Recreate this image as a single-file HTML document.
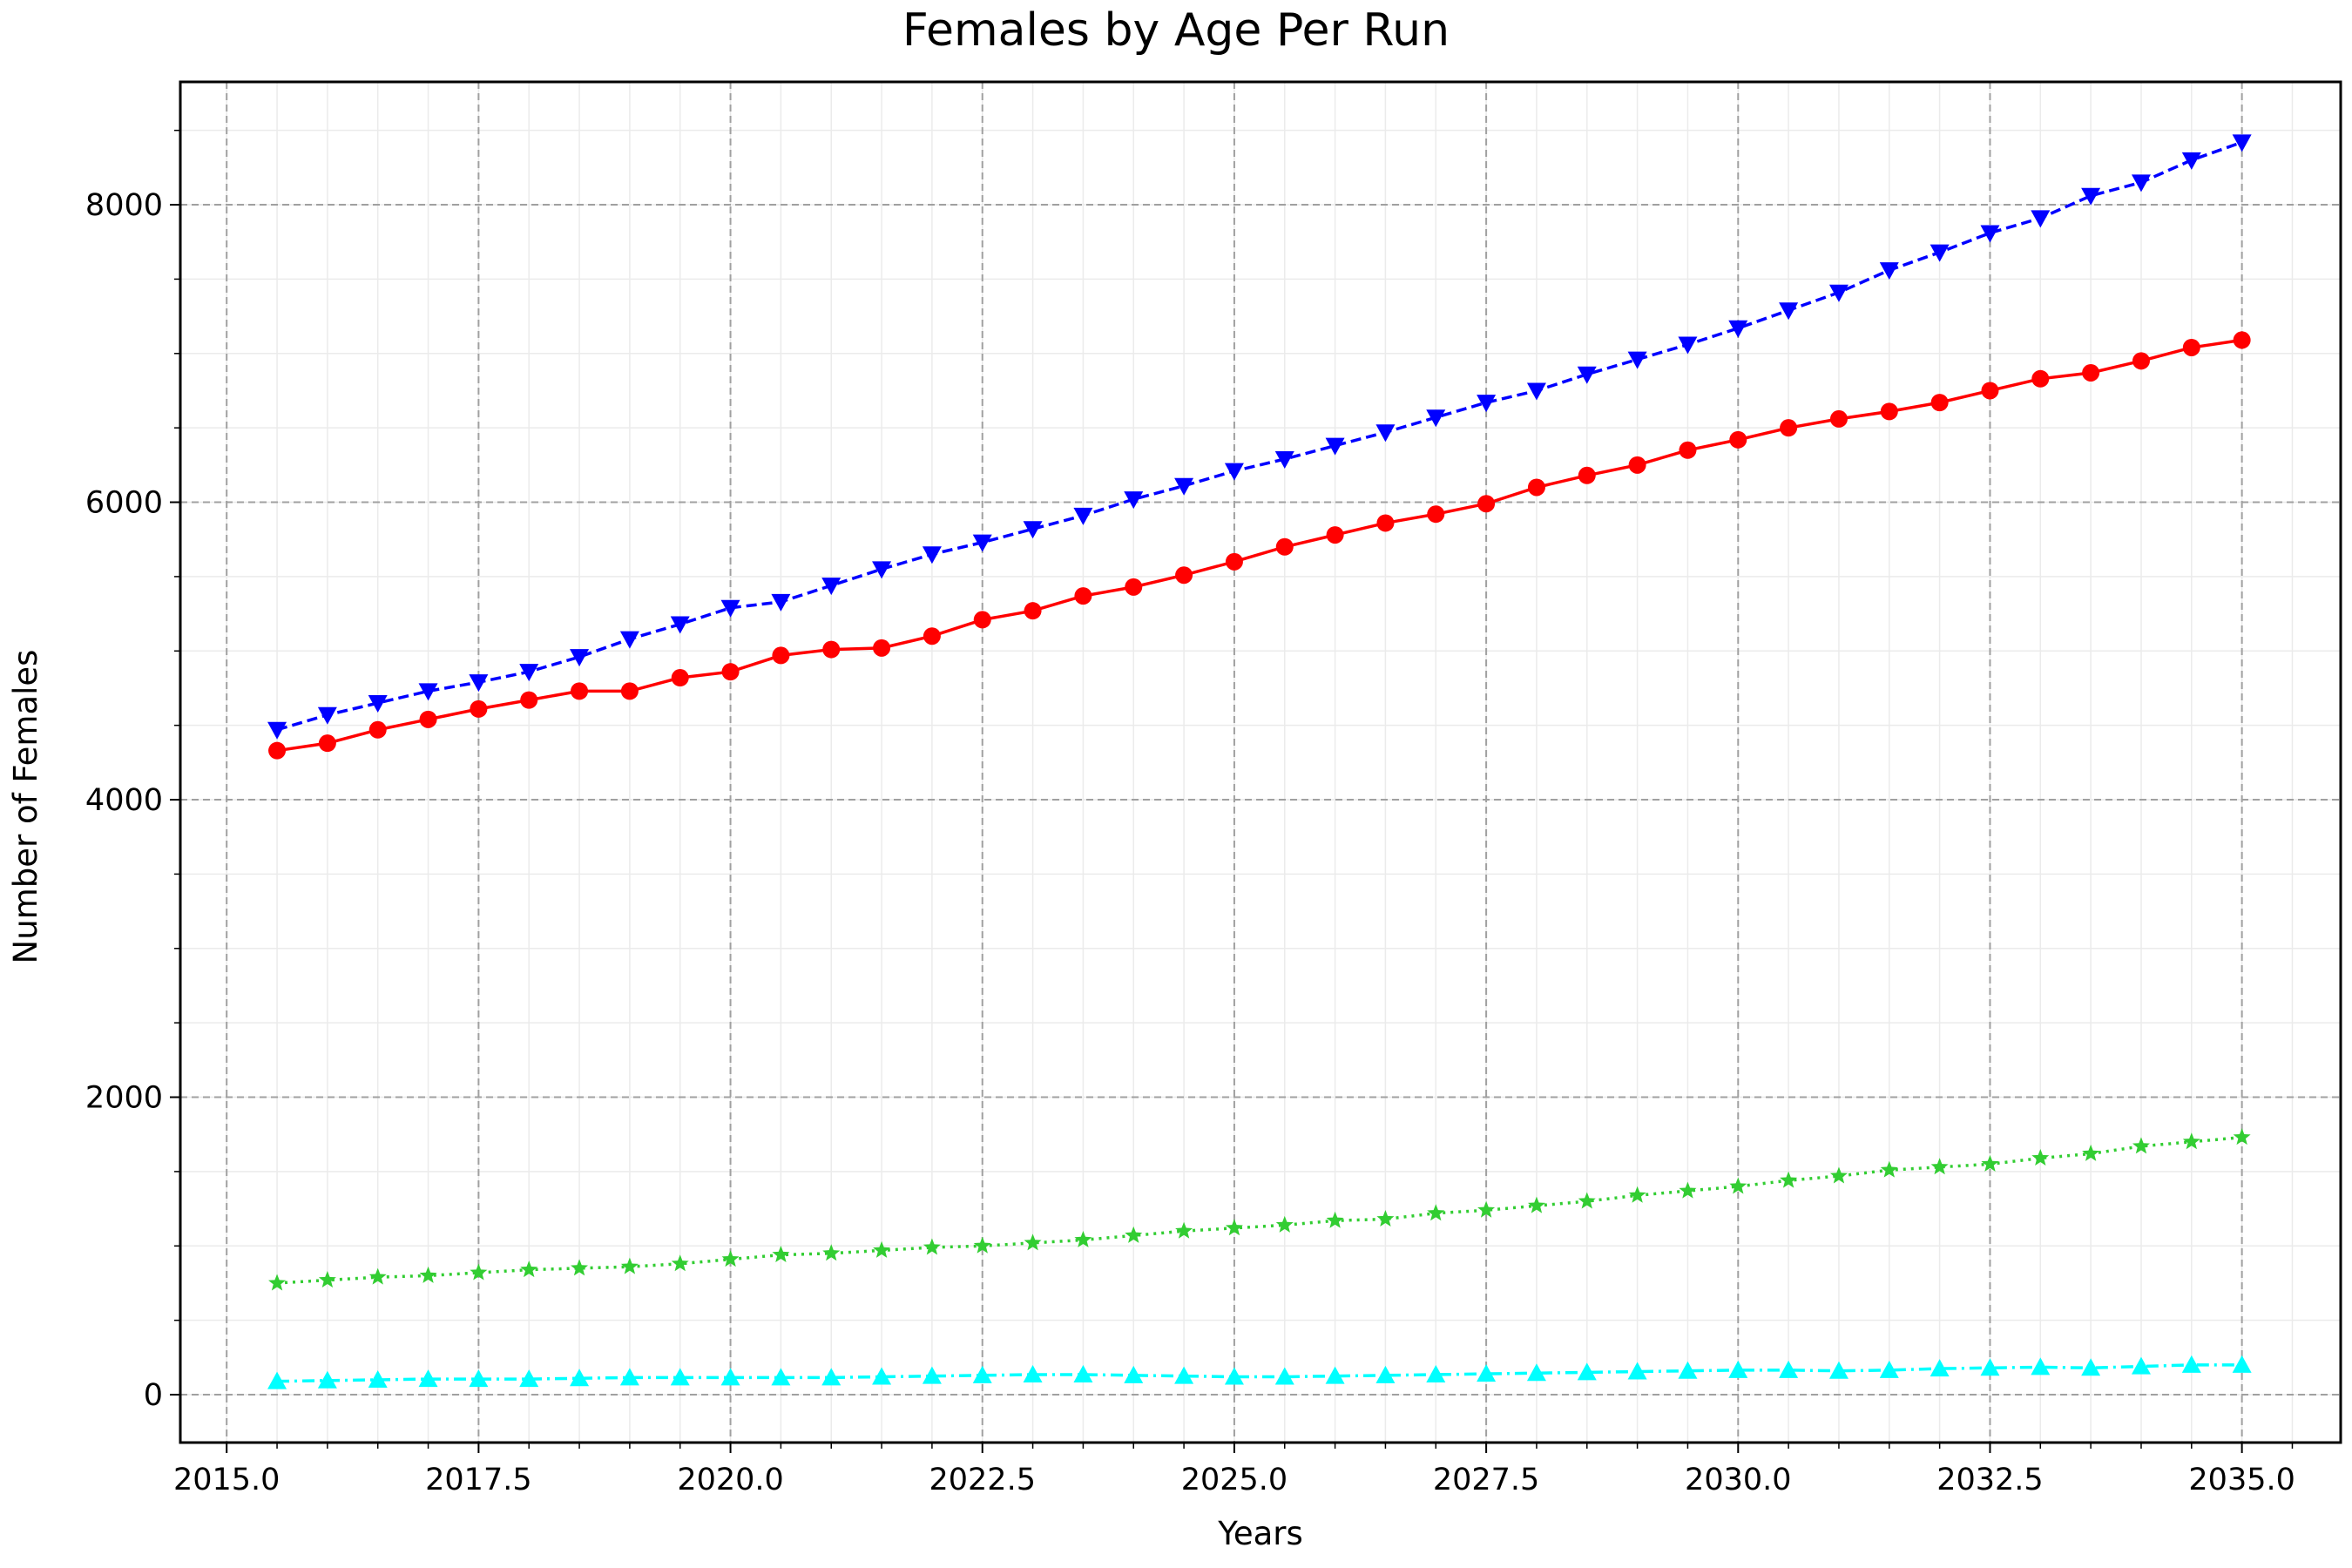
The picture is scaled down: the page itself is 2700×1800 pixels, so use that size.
<!DOCTYPE html>
<html><head><meta charset="utf-8"><style>
html,body{margin:0;padding:0;background:#fff;}
svg{display:block;font-family:"DejaVu Sans","Liberation Sans",sans-serif;}
</style></head><body>
<svg id="chart" width="2700" height="1800" viewBox="0 0 2700 1800" xmlns="http://www.w3.org/2000/svg">
<rect x="0" y="0" width="2700" height="1800" fill="#fff"/>
<g id="grid"></g>
<g id="series"></g>
<g id="axes"></g>
<text x="1350" y="52" text-anchor="middle" font-size="52" fill="#000">Females by Age Per Run</text>
<text x="1447" y="1773" text-anchor="middle" font-size="37" fill="#000">Years</text>
<text transform="translate(42,926) rotate(-90)" text-anchor="middle" font-size="37" fill="#000">Number of Females</text>
</svg>
<script>
const years = [];
for (let i = 0; i < 40; i++) years.push(2015.5 + i * 0.5);
const blueValues = [4470,4570,4650,4730,4790,4860,4960,5080,5180,5290,5330,5440,5550,5650,5730,5820,5910,6020,6110,6210,6290,6380,6470,6570,6670,6750,6860,6960,7060,7170,7290,7410,7560,7680,7810,7910,8060,8150,8300,8420];
const redValues = [4330,4380,4470,4540,4610,4670,4730,4730,4820,4860,4970,5010,5020,5100,5210,5270,5370,5430,5510,5600,5700,5780,5860,5920,5990,6100,6180,6250,6350,6420,6500,6560,6610,6670,6750,6830,6870,6950,7040,7090];
const greenValues = [750,770,790,800,820,840,850,860,880,910,940,950,970,990,1000,1020,1040,1070,1100,1120,1140,1170,1180,1220,1240,1270,1300,1340,1370,1400,1440,1470,1510,1530,1550,1590,1620,1670,1700,1730];
const cyanValues = [90,95,100,105,105,105,110,115,115,115,115,115,120,125,130,135,135,130,125,120,120,125,130,135,140,145,150,155,160,165,165,160,165,175,180,185,180,190,200,200];
const xTicks = [2015,2017.5,2020,2022.5,2025,2027.5,2030,2032.5,2035];
const xTickLabels = ["2015.0","2017.5","2020.0","2022.5","2025.0","2027.5","2030.0","2032.5","2035.0"];
const yTicks = [0,2000,4000,6000,8000];
const yTickLabels = ["0","2000","4000","6000","8000"];

const L=207,R=2687,T=94,B=1656;
const xMin=2014.54,xMax=2035.98,yMin=-322,yMax=8826;
const xs=v=>L+(v-xMin)/(xMax-xMin)*(R-L);
const ys=v=>B-(v-yMin)/(yMax-yMin)*(B-T);
const NS="http://www.w3.org/2000/svg";
function mk(tag,attrs,parent){const e=document.createElementNS(NS,tag);for(const k in attrs)e.setAttribute(k,attrs[k]);parent.appendChild(e);return e;}
const grid=document.getElementById('grid'),axes=document.getElementById('axes'),ser=document.getElementById('series');

for(let v=2014.5;v<=2036;v+=0.5){if(v<xMin||v>xMax)continue;const x=xs(v);
 const l=mk('line',{x1:x,x2:x,y1:T,y2:B,stroke:'#ebebeb','stroke-width':1.5},grid);
 
 const t=mk('line',{x1:x,x2:x,y1:B,y2:B+7,stroke:'#000','stroke-width':1.5},axes);
 }
for(let v=0;v<=8500;v+=500){const y=ys(v);
 const l=mk('line',{x1:L,x2:R,y1:y,y2:y,stroke:'#ebebeb','stroke-width':1.5},grid);
 
 const t=mk('line',{x1:L-7,x2:L,y1:y,y2:y,stroke:'#000','stroke-width':1.5},axes);
 }
xTicks.forEach((v,i)=>{const x=xs(v);
 const l=mk('line',{x1:x,x2:x,y1:T,y2:B,stroke:'#a0a0a0','stroke-width':2,'stroke-dasharray':'8,5'},grid);
 
 const t=mk('line',{x1:x,x2:x,y1:B,y2:B+12,stroke:'#000','stroke-width':2},axes);
 
 const tx=mk('text',{x:x,y:B+54,'text-anchor':'middle','font-size':35,fill:'#000'},axes);tx.textContent=xTickLabels[i];
 });
yTicks.forEach((v,i)=>{const y=ys(v);
 const l=mk('line',{x1:L,x2:R,y1:y,y2:y,stroke:'#a0a0a0','stroke-width':2,'stroke-dasharray':'8,5'},grid);
 
 const t=mk('line',{x1:L-12,x2:L,y1:y,y2:y,stroke:'#000','stroke-width':2},axes);
 
 const tx=mk('text',{x:L-20,y:y+12,'text-anchor':'end','font-size':35,fill:'#000'},axes);tx.textContent=yTickLabels[i];
 });
const frame=mk('rect',{x:L,y:T,width:R-L,height:B-T,fill:'none',stroke:'#000','stroke-width':3},axes);


function series(vals,color,dash,marker,name){
 const g=mk('g',{},ser);
 
 const pts=vals.map((v,i)=>xs(years[i])+','+ys(v)).join(' ');
 const pl=mk('polyline',{points:pts,fill:'none',stroke:color,'stroke-width':3.5,'stroke-dasharray':dash},g);
 
 vals.forEach((v,i)=>{const x=xs(years[i]),y=ys(v);let m;
  if(marker==='o')m=mk('circle',{cx:x,cy:y,r:10,fill:color},g);
  else if(marker==='v')m=mk('polygon',{points:`${x-11},${y-9} ${x+11},${y-9} ${x},${y+11}`,fill:color},g);
  else if(marker==='^')m=mk('polygon',{points:`${x-11},${y+9} ${x+11},${y+9} ${x},${y-11}`,fill:color},g);
  else {let p=[];for(let k=0;k<10;k++){const r=k%2?4.5:10.5,a=-Math.PI/2+k*Math.PI/5;p.push((x+r*Math.cos(a))+','+(y+r*Math.sin(a)));}
   m=mk('polygon',{points:p.join(' '),fill:color},g);}
  
  
 });
}
series(cyanValues,'#00ffff','14,6,3,6','^','series-cyan');
series(greenValues,'#32cd32','3,6','*','series-green');
series(redValues,'#ff0000','none','o','series-red');
series(blueValues,'#0000ff','12,6','v','series-blue');
</script>
</body></html>
